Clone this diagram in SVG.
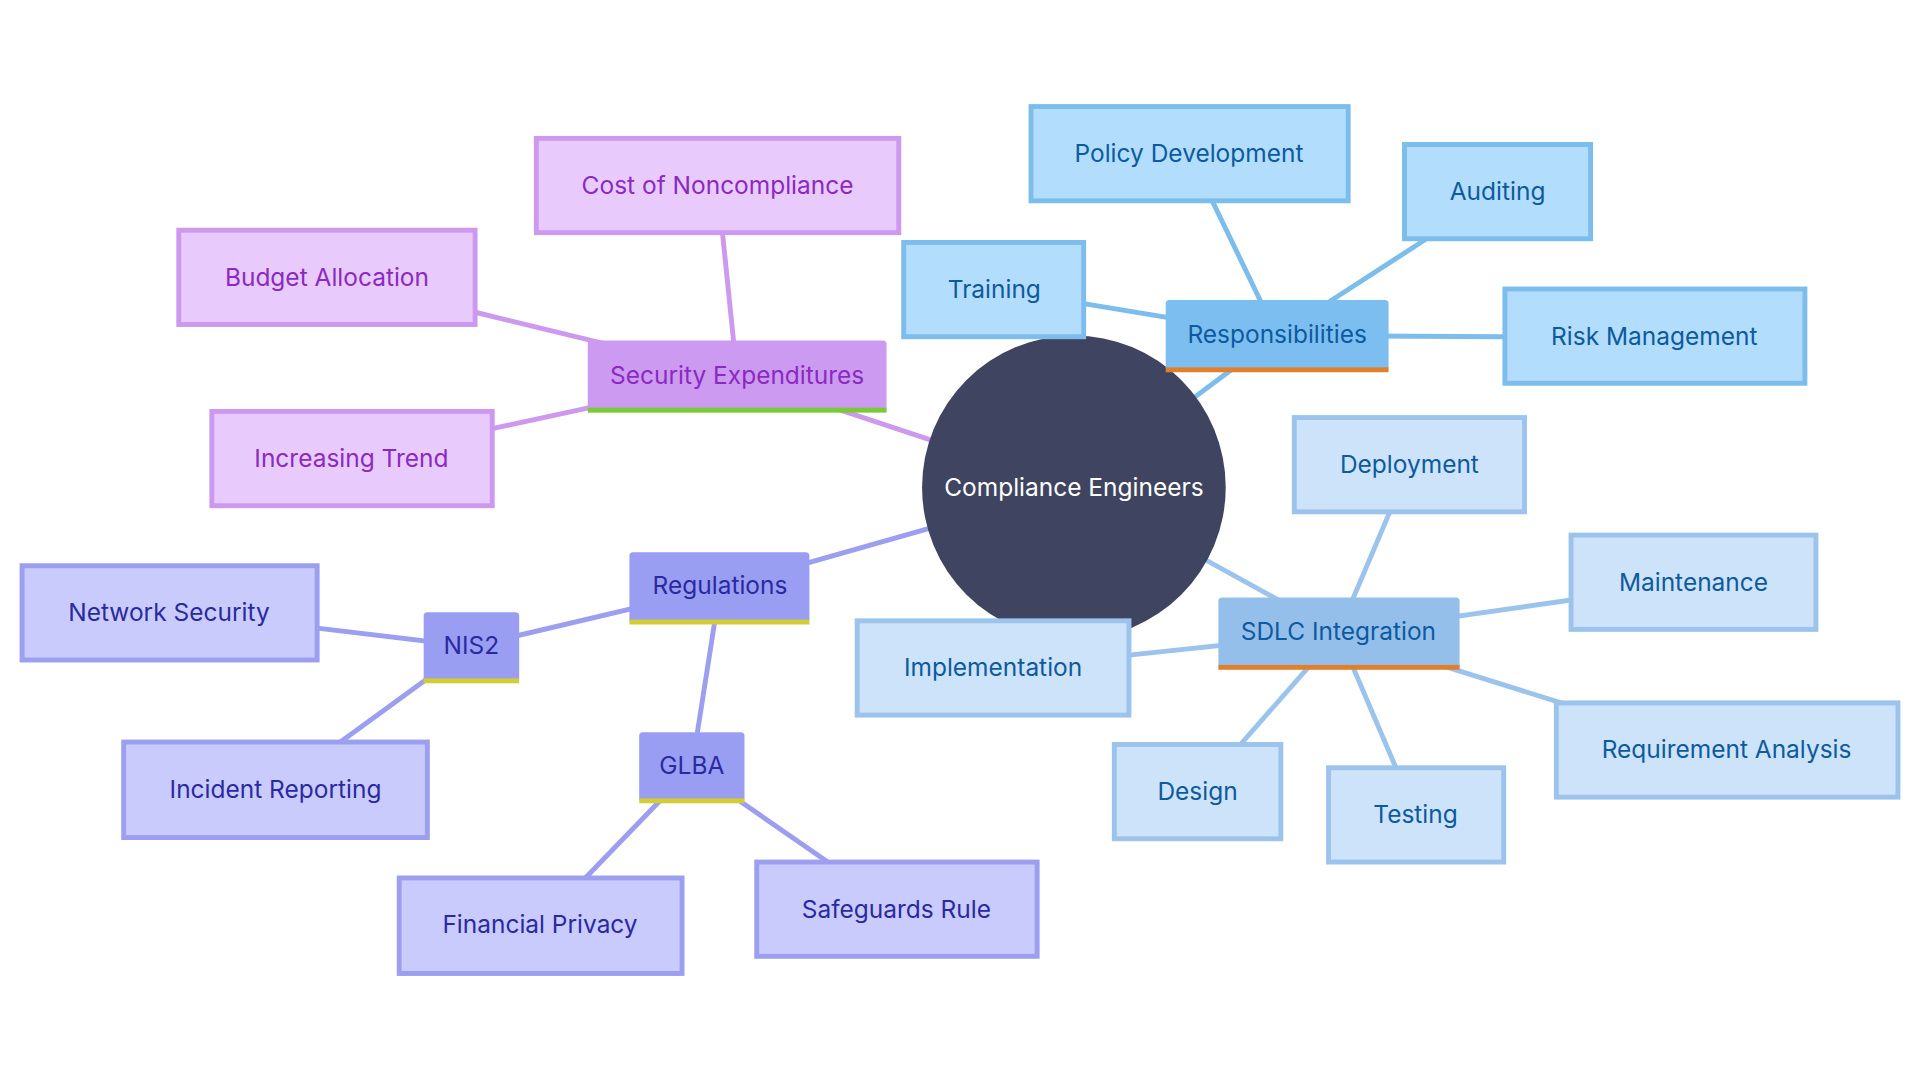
<svg xmlns="http://www.w3.org/2000/svg" width="1920" height="1080" viewBox="0 0 1920 1080">
<style>
text{font-family:Inter,"Noto Sans","Liberation Sans",sans-serif;font-size:20px;text-anchor:middle;dominant-baseline:central}
.e{stroke-width:4;fill:none}
.eb{stroke:#7dbdec}.el{stroke:#9cc3ec}.ep{stroke:#cc99ee}.ei{stroke:#9c9ef0}
.rb{fill:#7dbef0}.lb{fill:#b3ddfd;stroke:#7cbdeb;stroke-width:4}.tb{fill:#0d5a9e}
.rl{fill:#95bfeb}.ll{fill:#cde3f9;stroke:#9cc3ec;stroke-width:4}
.rp{fill:#cc9af0}.lp{fill:#e8cafd;stroke:#cc99ee;stroke-width:4}.tp{fill:#8a2ac0}
.ri{fill:#9a9ef3}.li{fill:#cacbfd;stroke:#9c9ef0;stroke-width:4}.ti{fill:#2a2aa0}
</style>
<rect width="1920" height="1080" fill="#fff"/>
<g transform="scale(1.2245)">
<g id="connectors">
<line class="e eb" x1="877" y1="398" x2="1043" y2="274"/>
<line class="e eb" x1="1043" y1="274" x2="990" y2="164"/>
<line class="e eb" x1="1043" y1="274" x2="1165" y2="195"/>
<line class="e eb" x1="1043" y1="274" x2="885" y2="248"/>
<line class="e eb" x1="1043" y1="274" x2="1229" y2="275"/>
<line class="e el" x1="877" y1="398" x2="1093" y2="517"/>
<line class="e el" x1="1093" y1="517" x2="1135" y2="418"/>
<line class="e el" x1="1093" y1="517" x2="1283" y2="490"/>
<line class="e el" x1="1093" y1="517" x2="922" y2="535"/>
<line class="e el" x1="1093" y1="517" x2="1275" y2="574"/>
<line class="e el" x1="1093" y1="517" x2="1013" y2="608"/>
<line class="e el" x1="1093" y1="517" x2="1140" y2="627"/>
<line class="e ep" x1="877" y1="398" x2="602" y2="307"/>
<line class="e ep" x1="602" y1="307" x2="590" y2="190"/>
<line class="e ep" x1="602" y1="307" x2="388" y2="255"/>
<line class="e ep" x1="602" y1="307" x2="402" y2="350"/>
<line class="e ei" x1="877" y1="398" x2="588" y2="480"/>
<line class="e ei" x1="588" y1="480" x2="385" y2="528"/>
<line class="e ei" x1="588" y1="480" x2="565" y2="627"/>
<line class="e ei" x1="385" y1="528" x2="259" y2="513"/>
<line class="e ei" x1="385" y1="528" x2="278" y2="606"/>
<line class="e ei" x1="565" y1="627" x2="478" y2="717"/>
<line class="e ei" x1="565" y1="627" x2="676" y2="704"/>
</g>
<g id="center"><circle cx="877" cy="398" r="124" fill="#3f4560"/><text x="877" y="398" fill="#fff">Compliance Engineers</text></g>
<g id="responsibilities"><rect class="rb" x="952" y="245" width="182" height="58" rx="3"/><rect x="952" y="300" width="182" height="4" fill="#e0802a"/><text class="tb" x="1043" y="273">Responsibilities</text></g>
<g id="policy"><rect class="lb" x="842" y="87" width="259" height="77"/><text class="tb" x="971" y="125">Policy Development</text></g>
<g id="auditing"><rect class="lb" x="1147" y="118" width="152" height="77"/><text class="tb" x="1223" y="156">Auditing</text></g>
<g id="training"><rect class="lb" x="738" y="198" width="147" height="77"/><text class="tb" x="812" y="236">Training</text></g>
<g id="risk"><rect class="lb" x="1229" y="236" width="245" height="77"/><text class="tb" x="1351" y="274">Risk Management</text></g>
<g id="sdlc"><rect class="rl" x="995" y="488" width="197" height="58" rx="3"/><rect x="995" y="543" width="197" height="4" fill="#e0802a"/><text class="tb" x="1093" y="515">SDLC Integration</text></g>
<g id="deployment"><rect class="ll" x="1057" y="341" width="188" height="77"/><text class="tb" x="1151" y="379">Deployment</text></g>
<g id="maintenance"><rect class="ll" x="1283" y="437" width="200" height="77"/><text class="tb" x="1383" y="475">Maintenance</text></g>
<g id="implementation"><rect class="ll" x="700" y="507" width="222" height="77"/><text class="tb" x="811" y="545">Implementation</text></g>
<g id="requirement"><rect class="ll" x="1271" y="574" width="279" height="77"/><text class="tb" x="1410" y="612">Requirement Analysis</text></g>
<g id="design"><rect class="ll" x="910" y="608" width="136" height="77"/><text class="tb" x="978" y="646">Design</text></g>
<g id="testing"><rect class="ll" x="1085" y="627" width="143" height="77"/><text class="tb" x="1156" y="665">Testing</text></g>
<g id="security"><rect class="rp" x="480" y="278" width="244" height="58" rx="3"/><rect x="480" y="333" width="244" height="4" fill="#77cc33"/><text class="tp" x="602" y="306">Security Expenditures</text></g>
<g id="cost"><rect class="lp" x="438" y="113" width="296" height="77"/><text class="tp" x="586" y="151">Cost of Noncompliance</text></g>
<g id="budget"><rect class="lp" x="146" y="188" width="242" height="77"/><text class="tp" x="267" y="226">Budget Allocation</text></g>
<g id="trend"><rect class="lp" x="173" y="336" width="229" height="77"/><text class="tp" x="287" y="374">Increasing Trend</text></g>
<g id="regulations"><rect class="ri" x="514" y="451" width="147" height="58" rx="3"/><rect x="514" y="506" width="147" height="4" fill="#d4cc33"/><text class="ti" x="588" y="478">Regulations</text></g>
<g id="nis2"><rect class="ri" x="346" y="500" width="78" height="57" rx="3"/><rect x="346" y="554" width="78" height="4" fill="#d4cc33"/><text class="ti" x="385" y="527">NIS2</text></g>
<g id="glba"><rect class="ri" x="522" y="598" width="86" height="57" rx="3"/><rect x="522" y="652" width="86" height="4" fill="#d4cc33"/><text class="ti" x="565" y="625">GLBA</text></g>
<g id="network"><rect class="li" x="18" y="462" width="241" height="77"/><text class="ti" x="138" y="500">Network Security</text></g>
<g id="incident"><rect class="li" x="101" y="606" width="248" height="78"/><text class="ti" x="225" y="644">Incident Reporting</text></g>
<g id="financial"><rect class="li" x="326" y="717" width="231" height="78"/><text class="ti" x="441" y="755">Financial Privacy</text></g>
<g id="safeguards"><rect class="li" x="618" y="704" width="229" height="77"/><text class="ti" x="732" y="742">Safeguards Rule</text></g>
</g>
</svg>
